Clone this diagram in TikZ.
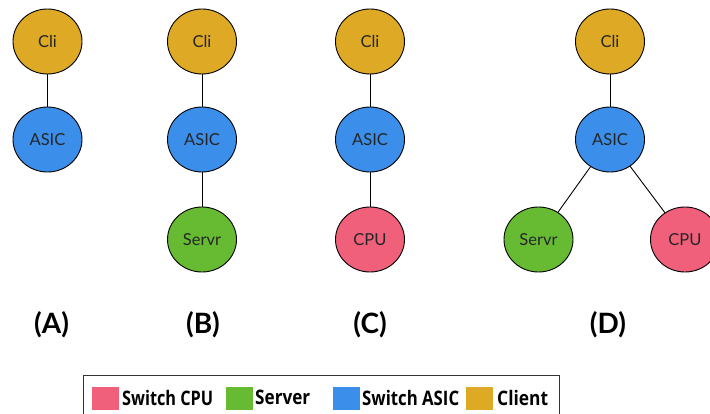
\documentclass[tikz,border=0pt]{standalone}
\usepackage{fontspec}
\setmainfont{Lato}
\newfontfamily\legendfont{Open Sans}
\usetikzlibrary{shapes.geometric}
\definecolor{cligold}{RGB}{222,170,38}
\definecolor{asicblue}{RGB}{59,142,234}
\definecolor{servgreen}{RGB}{102,187,51}
\definecolor{cpupink}{RGB}{240,96,122}
\newcommand{\legw}[2]{\resizebox{#1pt}{\height}{#2}}
\tikzset{
  dev/.style={ellipse, draw=black, line width=0.9pt, minimum width=69pt, minimum height=65pt, inner sep=0pt, font=\fontsize{16.5}{18}\selectfont, text=black!85},
  cli/.style={dev, fill=cligold},
  asic/.style={dev, fill=asicblue},
  serv/.style={dev, fill=servgreen},
  cpu/.style={dev, fill=cpupink},
  link/.style={line width=0.9pt, draw=black},
  caption/.style={font=\fontsize{28}{30}\selectfont\bfseries},
  swatch/.style={minimum width=27pt, minimum height=23pt, inner sep=0pt},
  legtext/.style={anchor=west, inner sep=0pt, font=\legendfont\fontsize{20}{22}\selectfont\bfseries}
}
\begin{document}
\begin{tikzpicture}[x=1pt,y=-1pt]
\useasboundingbox (0,0) rectangle (710,414);
% (A)
\node[cli] (a1) at (47.5,41.5) {Cli};
\node[asic] (a2) at (47.5,139.5) {ASIC};
\draw[link] (a1) -- (a2);
% (B)
\node[cli] (b1) at (202,41.5) {Cli};
\node[asic] (b2) at (202,139.5) {ASIC};
\node[serv] (b3) at (202,239.5) {Servr};
\draw[link] (b1) -- (b2);
\draw[link] (b2) -- (b3);
% (C)
\node[cli] (c1) at (370,41.5) {Cli};
\node[asic] (c2) at (370,139.5) {ASIC};
\node[cpu] (c3) at (370,239.5) {CPU};
\draw[link] (c1) -- (c2);
\draw[link] (c2) -- (c3);
% (D)
\node[cli] (d1) at (610,41.5) {Cli};
\node[asic] (d2) at (610,139.5) {ASIC};
\node[serv] (d3) at (538.5,239.5) {Servr};
\node[cpu] (d4) at (685,239.5) {CPU};
\draw[link] (d1) -- (d2);
\draw[link] (d2) -- (d3);
\draw[link] (d2) -- (d4);
% captions
\node[caption] (la) at (51.5,325) {(A)};
\node[caption] (lb) at (203,325) {(B)};
\node[caption] (lc) at (370,325) {(C)};
\node[caption] (ld) at (608,325) {(D)};
% legend
\draw[line width=1pt, draw=black!80] (83,375) rectangle (559,425);
\node[swatch, fill=cpupink] (s1) at (105.5,398.5) {};
\node[legtext] (t1) at (122,397.5) {\legw{91}{Switch CPU}};
\node[swatch, fill=servgreen] (s2) at (239,398.5) {};
\node[legtext] (t2) at (255,397.5) {\legw{55}{Server}};
\node[swatch, fill=asicblue] (s3) at (346.5,398.5) {};
\node[legtext] (t3) at (362,397.5) {\legw{97}{Switch ASIC}};
\node[swatch, fill=cligold] (s4) at (479.5,398.5) {};
\node[legtext] (t4) at (497,397.5) {\legw{51}{Client}};
\end{tikzpicture}
\end{document}
